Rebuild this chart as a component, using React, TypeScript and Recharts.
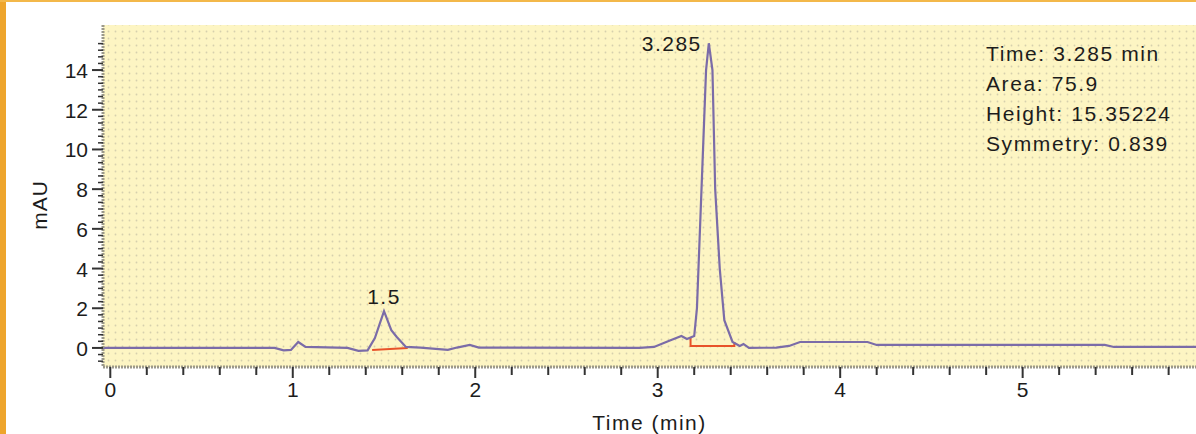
import { LineChart, Line, XAxis, YAxis, CartesianGrid, ReferenceDot } from "recharts";

// chromatogram trace (time in min, signal in mAU)
const traceTime = [
  -0.04, 0.9, 0.95, 0.99, 1.03, 1.07, 1.3, 1.36, 1.41, 1.45, 1.5, 1.54, 1.57, 1.62, 1.7, 1.85,
  1.9, 1.97, 2.02, 2.9, 2.98, 3.06, 3.13, 3.16, 3.2, 3.215, 3.24, 3.265, 3.28, 3.3, 3.315, 3.34,
  3.365, 3.41, 3.45, 3.47, 3.5, 3.65, 3.72, 3.78, 4.15, 4.2, 5.45, 5.5, 5.95,
];
const traceSignal = [
  0, 0, -0.12, -0.1, 0.3, 0.05, 0, -0.15, -0.12, 0.5, 1.85, 0.9, 0.55, 0.05, 0.02, -0.1,
  0.02, 0.15, 0.02, 0, 0.05, 0.35, 0.6, 0.45, 0.6, 2, 8, 14, 15.35, 14, 8, 4,
  1.4, 0.3, 0.1, 0.2, 0, 0.02, 0.1, 0.3, 0.3, 0.15, 0.15, 0.05, 0.05,
];

// integration baselines (orange)
const base1Time = [1.435, 1.63];
const base1Signal = [-0.1, 0];
const base2Time = [3.18, 3.18, 3.42, 3.42];
const base2Signal = [0.5, 0.1, 0.1, 0.3];

const xMajor = [0, 1, 2, 3, 4, 5];
const yMajor = [0, 2, 4, 6, 8, 10, 12, 14];

const peakLabels = [
  { t: 1.5, v: 1.85, text: "1.5", pos: "top" as const },
  { t: 3.28, v: 15.35, text: "3.285", pos: "left" as const },
];

const infoLines = ["Time: 3.285 min", "Area: 75.9", "Height: 15.35224", "Symmetry: 0.839"];

const trace = traceTime.map((t, i) => ({ t, v: traceSignal[i] }));
const base1 = base1Time.map((t, i) => ({ t, v: base1Signal[i] }));
const base2 = base2Time.map((t, i) => ({ t, v: base2Signal[i] }));

// minor ticks every 0.2 min / every 1/3 mAU
const xTicks = Array.from({ length: 30 }, (_, i) => i / 5);
const yTicks = Array.from({ length: 49 }, (_, i) => (i - 2) / 3);

const FONT = '"Liberation Sans", Arial, sans-serif';
const INK = "#1c1c1c";
const BORDER = "#9c998a";

function XTick(props: any) {
  const { x, y, payload } = props;
  const major = xMajor.some((m) => Math.abs(m - payload.value) < 1e-6);
  return (
    <g>
      <line x1={x} x2={x} y1={y} y2={y + (major ? 11 : 8)} stroke="#333" strokeWidth={2} />
      {major && (
        <text x={x} y={y + 30} textAnchor="middle" fontSize={21} fill={INK} fontFamily={FONT}>
          {Math.round(payload.value)}
        </text>
      )}
    </g>
  );
}

function YTick(props: any) {
  const { x, y, payload } = props;
  const major = yMajor.some((m) => Math.abs(m - payload.value) < 1e-6);
  return (
    <g>
      <line x1={x} x2={x - (major ? 11 : 5)} y1={y} y2={y} stroke="#333" strokeWidth={major ? 2 : 1.5} />
      {major && (
        <text x={x - 15} y={y + 8} textAnchor="end" fontSize={21} fill={INK} fontFamily={FONT}>
          {Math.round(payload.value)}
        </text>
      )}
    </g>
  );
}

export default function App() {
  return (
    <div style={{ position: "absolute", left: 0, top: 0, width: 1196, height: 434, background: "#fff", overflow: "hidden" }}>
      <LineChart width={1196} height={434} margin={{ top: 25, right: 0, bottom: 0, left: 0 }}>
        <defs>
          <pattern id="dots" width={7} height={7} patternUnits="userSpaceOnUse">
            <rect width={7} height={7} fill="#fdf5c3" />
            <circle cx={3.5} cy={3.5} r={0.9} fill="#d6d0ad" />
          </pattern>
        </defs>
        <CartesianGrid horizontal={false} vertical={false} fill="url(#dots)" />
        <XAxis
          xAxisId="top"
          orientation="top"
          type="number"
          dataKey="t"
          domain={[-0.04, 5.95]}
          allowDataOverflow
          height={0}
          tick={false}
          tickLine={false}
          axisLine={{ stroke: BORDER, strokeWidth: 3, strokeDasharray: "2 1" }}
        />
        <XAxis
          type="number"
          dataKey="t"
          domain={[-0.04, 5.95]}
          allowDataOverflow
          ticks={xTicks}
          interval={0}
          tickSize={0}
          tickMargin={0}
          tickLine={false}
          tick={<XTick />}
          height={67}
          axisLine={{ stroke: BORDER, strokeWidth: 3, strokeDasharray: "2 1" }}
          label={{
            value: "Time (min)",
            position: "insideBottom",
            offset: 4,
            fontSize: 21,
            fill: INK,
            fontFamily: FONT,
            letterSpacing: 1.5,
          }}
        />
        <YAxis
          type="number"
          domain={[-0.96, 16.27]}
          allowDataOverflow
          ticks={yTicks}
          interval={0}
          tickSize={0}
          tickMargin={0}
          tickLine={false}
          tick={<YTick />}
          width={103}
          axisLine={{ stroke: BORDER, strokeWidth: 3, strokeDasharray: "2 1" }}
        />
        <Line data={base1} dataKey="v" type="linear" stroke="#e8532a" strokeWidth={2} dot={false} isAnimationActive={false} />
        <Line data={base2} dataKey="v" type="linear" stroke="#e8532a" strokeWidth={2} dot={false} isAnimationActive={false} />
        <Line data={trace} dataKey="v" type="linear" stroke="#7b6ca8" strokeWidth={2.2} dot={false} isAnimationActive={false} />
        {peakLabels.map((p) => (
          <ReferenceDot
            key={p.text}
            x={p.t}
            y={p.v}
            r={0}
            fill="none"
            stroke="none"
            label={{
              value: p.text,
              position: p.pos,
              offset: 7,
              fontSize: 21,
              fill: INK,
              fontFamily: FONT,
              letterSpacing: 1.5,
            }}
          />
        ))}
      </LineChart>
      <div
        style={{
          position: "absolute",
          left: 40,
          top: 205,
          transform: "translate(-50%, -50%) rotate(-90deg)",
          fontFamily: FONT,
          fontSize: 21,
          letterSpacing: 1,
          color: INK,
        }}
      >
        mAU
      </div>
      <div
        style={{
          position: "absolute",
          left: 986,
          top: 39,
          fontFamily: FONT,
          fontSize: 21,
          letterSpacing: 1.6,
          lineHeight: "30px",
          color: INK,
          whiteSpace: "nowrap",
        }}
      >
        {infoLines.map((l) => (
          <div key={l}>{l}</div>
        ))}
      </div>
      <div style={{ position: "absolute", left: 0, top: 0, width: 6, height: 434, background: "#eea52c" }} />
      <div style={{ position: "absolute", left: 0, top: 0, width: 1196, height: 2, background: "#f3b84a" }} />
    </div>
  );
}
